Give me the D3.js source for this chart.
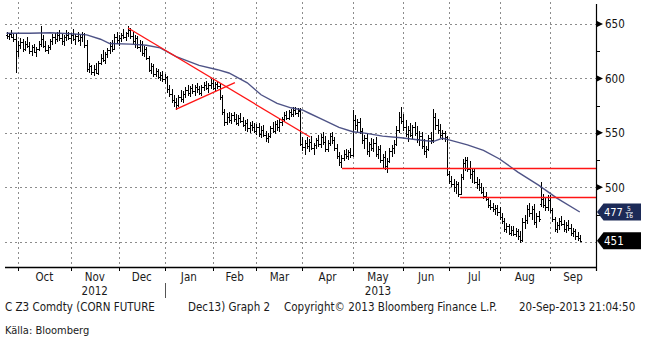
<!DOCTYPE html>
<html>
<head>
<meta charset="utf-8">
<script src="https://cdn.jsdelivr.net/npm/d3@7"></script>
<style>
  html, body { margin: 0; padding: 0; background: #fff; }
  svg { display: block; }
  text { font-family: "DejaVu Sans Condensed", "DejaVu Sans", sans-serif; }
</style>
</head>
<body>
<svg id="chart" width="645" height="341"></svg>
<script>
// ---- Data: C Z3 (Dec 2013 corn) daily bars, US cents/bushel, trading-day index 0..250 ----
const monthLabels = ["Oct", "Nov", "Dec", "Jan", "Feb", "Mar", "Apr", "May", "Jun", "Jul", "Aug", "Sep"];
const monthStart  = [5, 28, 49, 69, 90, 109, 129, 151, 173, 193, 215, 237];   // first trading day of each month
const yearLabels  = ["2012", "2013"];
const yearUnderMonth = [1, 7];                                                  // Nov, May
const yearSplitMonth = 3;                                                       // Jan starts 2013

const opens = [
  640,639,641,638,636,
  625,631,633,627,632,630,625,629,624,627,632,636,630,626,629,634,638,636,640,637,634,638,640,
  637,640,636,639,635,638,641,631,609,611,606,609,605,614,619,617,622,626,630,627,638,
  635,637,640,638,642,644,639,634,637,629,632,623,627,619,608,611,604,607,601,603,
  599,601,590,586,580,578,576,583,581,586,589,587,591,588,592,590,587,592,594,591,594,
  596,591,595,593,583,569,560,565,562,566,563,559,564,561,557,559,554,557,555,
  552,555,549,553,548,545,547,554,552,558,555,560,563,566,564,569,567,571,568,571,
  540,537,541,538,542,536,539,543,540,546,542,535,541,547,543,536,529,523,527,531,529,532,
  530,562,557,560,552,543,545,533,540,536,541,531,535,525,528,520,524,533,536,540,553,565,
  561,555,549,553,548,555,550,544,547,538,533,535,545,543,565,557,553,548,550,546,
  512,506,503,500,503,494,509,522,525,517,512,515,505,503,500,496,492,489,484,482,480,481,
  477,473,469,462,464,458,461,457,460,455,452,468,470,480,476,480,468,474,485,489,484,482,
  488,479,471,462,465,469,466,462,465,463,458,460,455,453
];
const highs = [
  643,642,644,641,642,
  634,637,636,634,638,633,631,632,629,634,648,640,634,631,636,641,642,643,644,641,640,644,643,
  642,645,641,643,640,643,642,635,614,612,612,614,616,622,626,624,628,633,635,641,643,
  640,642,645,643,648,646,643,640,639,635,634,630,629,621,614,613,610,609,606,607,
  604,602,594,590,585,582,585,589,588,592,594,593,595,594,596,593,594,597,598,596,599,
  599,597,598,596,585,572,568,569,568,569,567,566,568,565,562,563,560,561,559,
  558,559,556,557,552,550,556,560,561,562,563,565,569,570,571,572,574,574,573,573,
  546,543,546,544,547,541,545,548,549,551,547,543,550,551,546,540,532,530,534,535,534,536,
  571,566,563,564,554,548,549,542,545,544,546,538,539,531,533,527,536,539,543,556,569,574,
  567,562,556,559,557,560,556,552,551,544,538,548,551,572,568,563,558,553,552,547,
  515,510,508,506,505,512,526,528,528,524,518,518,509,508,504,500,496,491,488,486,484,484,
  482,476,472,467,466,464,464,463,462,460,472,475,484,486,483,485,476,478,505,494,490,493,
  493,481,473,468,472,474,470,468,470,466,463,462,459,456
];
const lows = [
  636,635,637,633,605,
  620,627,624,625,628,622,621,623,620,625,629,628,624,622,626,631,632,633,634,631,630,634,635,
  632,634,631,633,630,633,628,606,605,603,602,604,603,612,615,613,619,622,624,626,632,
  630,633,636,634,638,636,632,628,627,624,621,620,617,606,604,601,601,599,598,597,
  595,587,583,577,574,571,574,578,577,582,584,583,586,584,587,585,584,588,589,587,590,
  589,588,590,580,566,556,557,559,558,560,557,556,559,555,552,551,550,552,550,
  548,546,545,546,542,541,545,550,549,552,551,556,560,562,562,565,565,566,565,538,
  533,530,535,532,534,530,535,537,536,539,532,532,538,540,533,526,520,518,524,526,525,527,
  528,553,551,549,540,535,530,528,533,532,528,526,522,518,516,513,522,528,531,538,550,558,
  552,546,542,546,544,547,541,538,535,530,527,533,540,541,553,549,545,543,542,510,
  503,500,496,494,491,493,507,515,514,508,504,503,498,497,494,489,487,481,479,477,475,474,
  470,466,459,458,456,455,455,454,452,449,450,462,466,473,470,465,463,468,482,481,478,478,
  476,468,459,458,461,464,459,458,460,455,454,452,451,450
];
const closes = [
  639,641,638,636,625,
  631,633,627,632,630,625,629,624,627,632,636,630,626,629,634,638,636,640,637,634,638,640,637,
  640,636,639,635,638,641,631,609,611,606,609,605,614,619,617,622,626,630,627,638,635,
  637,640,638,642,644,639,634,637,629,632,623,627,619,608,611,604,607,601,603,599,
  601,590,586,580,578,576,583,581,586,589,587,591,588,592,590,587,592,594,591,594,596,
  591,595,593,583,569,560,565,562,566,563,559,564,561,557,559,554,557,555,552,
  555,549,553,548,545,547,554,552,558,555,560,563,566,564,569,567,571,568,570,540,
  537,541,538,542,536,539,543,540,546,542,535,541,547,543,536,529,523,527,531,529,532,530,
  562,557,560,552,543,545,533,540,536,541,531,535,525,528,520,524,533,536,540,553,565,561,
  555,549,553,548,555,550,544,547,538,533,535,545,543,565,557,553,548,550,546,512,
  506,503,500,503,494,509,522,525,517,512,515,505,503,500,496,492,489,484,482,480,481,477,
  473,469,462,464,458,461,457,460,455,452,468,470,480,476,480,468,474,471,489,484,482,488,
  479,471,462,465,469,466,462,465,463,458,460,455,453,451
];

// Moving average line (trading-day index, value)
const maIndex = [0, 10, 19, 28, 35, 41, 45, 54, 61, 67, 74, 84, 92, 97, 105, 111, 118, 124, 129, 132,
                 137, 145, 151, 157, 164, 172, 180, 186, 190, 193, 201, 208, 215, 223, 232, 240, 250];
const maValue = [641.5, 641.5, 642, 641, 640, 636, 632, 631.5, 630.5, 628, 620, 612, 608, 605, 596, 585, 577, 573, 571, 568,
                 563, 555, 551, 549.5, 547, 545.5, 543.5, 542, 545, 543.5, 539, 534, 526, 514, 502, 490, 477.3];

// Hand-drawn trend lines and support levels
const trendDown = [[53, 646.3], [132.4, 546.2]];
const trendUp   = [[73.8, 571.6], [99.6, 596.1]];
const supportValue = [517.4, 490.8];
const supportFrom  = [146.3, 197.8];

// Right axis
const yMajorTicks = [650, 600, 550, 500];
const yMinorTicks = [625, 575, 525, 475];
const gridValues  = [450, 500, 550, 600, 650];

// Last-value tags
const maLast = 477.3125;            // 477 5/16
const maLastText = ["477", "5", "16"];
const closeLast = 451;

const footerParts = ["C Z3 Comdty (CORN FUTURE", "Dec13) Graph 2", "Copyright\u00A9 2013 Bloomberg Finance L.P.", "20-Sep-2013 21:04:50"];
const sourceNote = "K\u00E4lla: Bloomberg";

// ---- Layout ----
const plot = { left: 5, right: 596, top: 6, bottom: 267 };
const svg = d3.select("#chart");

const x = d3.scaleLinear().domain([0, 250]).range([6.5, 579.8]);
const y = d3.scaleLinear().domain([426.8, 666.5]).range([plot.bottom, plot.top]);
const px = v => Math.round(v) + 0.5;

// Grid
const grid = svg.append("g").attr("stroke", "#8c8c8c").attr("stroke-width", 1).attr("stroke-dasharray", "2,3");
grid.selectAll("line.h").data(gridValues).join("line").attr("class", "h")
  .attr("x1", plot.left).attr("x2", plot.right)
  .attr("y1", d => px(y(d))).attr("y2", d => px(y(d)));
grid.selectAll("line.v").data(monthStart).join("line").attr("class", "v")
  .attr("x1", d => px(x(d))).attr("x2", d => px(x(d)))
  .attr("y1", 2).attr("y2", plot.bottom);

// OHLC bars
const bars = d3.range(opens.length).map(i => ({ i, o: opens[i], h: highs[i], l: lows[i], c: closes[i] }));
const barG = svg.append("g").attr("fill", "#000");
barG.selectAll("rect.hl").data(bars).join("rect").attr("class", "hl")
  .attr("x", d => Math.round(x(d.i)))
  .attr("width", 1)
  .attr("y", d => Math.round(y(d.h)))
  .attr("height", d => Math.max(1, Math.round(y(d.l)) - Math.round(y(d.h))));
barG.selectAll("rect.op").data(bars).join("rect").attr("class", "op")
  .attr("x", d => Math.round(x(d.i)) - 1).attr("width", 1)
  .attr("y", d => Math.round(y(d.o))).attr("height", 1);
barG.selectAll("rect.cl").data(bars).join("rect").attr("class", "cl")
  .attr("x", d => Math.round(x(d.i)) + 1).attr("width", 1)
  .attr("y", d => Math.round(y(d.c))).attr("height", 1);

// Moving average
const maPts = maIndex.map((d, k) => [d, maValue[k]]);
svg.append("path")
  .attr("d", d3.line().x(d => x(d[0])).y(d => y(d[1]))(maPts))
  .attr("fill", "none").attr("stroke", "#3b4079").attr("stroke-width", 1.4).attr("stroke-opacity", 0.9);

// Trend lines and support levels
const red = "#ff1414";
const trendLine = d3.line().x(d => x(d[0])).y(d => y(d[1]));
[trendDown, trendUp].forEach(t => {
  svg.append("path").attr("d", trendLine(t)).attr("fill", "none")
    .attr("stroke", red).attr("stroke-width", 1.3);
});
svg.selectAll("line.support").data(supportValue).join("line").attr("class", "support")
  .attr("x1", (d, k) => x(supportFrom[k])).attr("x2", plot.right)
  .attr("y1", d => px(y(d))).attr("y2", d => px(y(d)))
  .attr("stroke", red).attr("stroke-width", 1.4);

// Axes lines
svg.append("line").attr("x1", plot.left).attr("x2", plot.right + 1)
  .attr("y1", plot.bottom + 0.5).attr("y2", plot.bottom + 0.5)
  .attr("stroke", "#000").attr("stroke-width", 1.5);
svg.append("line").attr("x1", plot.right + 0.5).attr("x2", plot.right + 0.5)
  .attr("y1", 4).attr("y2", plot.bottom + 4)
  .attr("stroke", "#000").attr("stroke-width", 1.2);

// Bottom ticks at month boundaries
svg.selectAll("line.mt").data(monthStart).join("line").attr("class", "mt")
  .attr("x1", d => px(x(d))).attr("x2", d => px(x(d)))
  .attr("y1", plot.bottom).attr("y2", plot.bottom + 4)
  .attr("stroke", "#000");

// Month labels, centred in each month span
const monthCenter = monthStart.map((s, k) => {
  const a = x(s), b = k < monthStart.length - 1 ? x(monthStart[k + 1]) : plot.right;
  return (a + b) / 2;
});
svg.selectAll("text.month").data(monthLabels).join("text").attr("class", "month")
  .attr("x", (d, k) => monthCenter[k]).attr("y", 281)
  .attr("text-anchor", "middle").attr("font-size", 11.5).attr("fill", "#1a1a1a")
  .text(d => d);
svg.selectAll("text.year").data(yearLabels).join("text").attr("class", "year")
  .attr("x", (d, k) => monthCenter[yearUnderMonth[k]]).attr("y", 294.5)
  .attr("text-anchor", "middle").attr("font-size", 11.5).attr("fill", "#1a1a1a")
  .text(d => d);
svg.append("line")
  .attr("x1", px(x(monthStart[yearSplitMonth]))).attr("x2", px(x(monthStart[yearSplitMonth])))
  .attr("y1", 283).attr("y2", 298).attr("stroke", "#555");

// Right axis ticks and labels
svg.selectAll("path.major").data(yMajorTicks).join("path").attr("class", "major")
  .attr("d", d => { const yy = y(d); return `M${plot.right},${yy - 3.5}L${plot.right + 7},${yy}L${plot.right},${yy + 3.5}Z`; })
  .attr("fill", "#000");
svg.selectAll("line.minor").data(yMinorTicks).join("line").attr("class", "minor")
  .attr("x1", plot.right).attr("x2", plot.right + 4)
  .attr("y1", d => px(y(d))).attr("y2", d => px(y(d)))
  .attr("stroke", "#000");
svg.selectAll("text.ylab").data(yMajorTicks).join("text").attr("class", "ylab")
  .attr("x", 605).attr("y", d => y(d) + 4.5)
  .attr("font-size", 11.5).attr("fill", "#111")
  .text(d => d);

// Last-value tags
function tag(value, fill) {
  const yc = y(value);
  svg.append("path")
    .attr("d", `M597,${yc}L603.5,${yc - 8.5}L641,${yc - 8.5}L641,${yc + 8.5}L603.5,${yc + 8.5}Z`)
    .attr("fill", fill);
  return yc;
}
const yMa = tag(maLast, "#1c2a57");
svg.append("text").attr("x", 604).attr("y", yMa + 4.5).attr("font-size", 11).attr("fill", "#fff").text(maLastText[0]);
svg.append("text").attr("x", 627).attr("y", yMa - 1).attr("font-size", 6.5).attr("fill", "#fff").text(maLastText[1]);
svg.append("text").attr("x", 625.5).attr("y", yMa + 6.5).attr("font-size", 6.5).attr("fill", "#fff").text(maLastText[2]);
svg.append("line").attr("x1", 625.5).attr("x2", 633).attr("y1", yMa + 0.5).attr("y2", yMa + 0.5)
  .attr("stroke", "#fff").attr("stroke-width", 0.6);
const yCl = tag(closeLast, "#000");
svg.append("text").attr("x", 604).attr("y", yCl + 4.5).attr("font-size", 11.5).attr("fill", "#fff").text(closeLast);

// Footer
const footerX = [5, 188, 284, 519];
svg.selectAll("text.foot").data(footerParts).join("text").attr("class", "foot")
  .attr("x", (d, k) => footerX[k]).attr("y", 311)
  .attr("font-size", 11.5).attr("fill", "#1a1a1a")
  .text(d => d);
svg.append("text").attr("x", 5).attr("y", 334).attr("font-size", 11).attr("fill", "#1a1a1a").text(sourceNote);
</script>
</body>
</html>
